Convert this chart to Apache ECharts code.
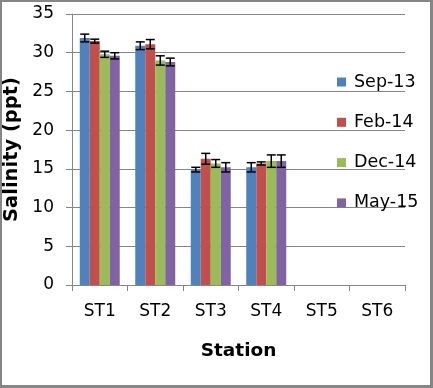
<!DOCTYPE html>
<html>
<head>
<meta charset="utf-8">
<script src="https://cdn.jsdelivr.net/npm/echarts@6/dist/echarts.min.js"></script>
<style>
html,body{margin:0;padding:0;background:#fff;}
#c{position:absolute;left:0;top:0;width:433px;height:388px;}
#b{position:absolute;left:0;top:0;width:433px;height:388px;box-sizing:border-box;border-left:2px solid #868686;border-top:2px solid #868686;border-right:3px solid #868686;border-bottom:3px solid #868686;pointer-events:none;}
</style>
</head>
<body>
<div id="c"></div>
<div id="b"></div>
<script>
const categories = ['ST1','ST2','ST3','ST4','ST5','ST6'];
const seriesNames = ['Sep-13','Feb-14','Dec-14','May-15'];
const sep13 = [31.9, 30.9, 14.9, 15.2, null, null];
const feb14 = [31.5, 31.1, 16.3, 15.7, null, null];
const dec14 = [29.8, 29.0, 15.7, 16.0, null, null];
const may15 = [29.6, 28.8, 15.2, 16.0, null, null];
const errSep13 = [0.5, 0.5, 0.3, 0.6, null, null];
const errFeb14 = [0.25, 0.6, 0.7, 0.2, null, null];
const errDec14 = [0.4, 0.6, 0.5, 0.8, null, null];
const errMay15 = [0.4, 0.5, 0.6, 0.8, null, null];
const yTicks = [0,5,10,15,20,25,30,35];

const values = [sep13, feb14, dec14, may15];
const errors = [errSep13, errFeb14, errDec14, errMay15];
const colors = ['#4F81BD','#C0504D','#9BBB59','#8064A2'];
const FONT = 'DejaVu Sans';
const BAR_W = 10;

const series = [];
values.forEach((vals, i) => {
  series.push({
    name: seriesNames[i], type: 'bar', data: vals, barWidth: BAR_W, barGap: '0%',
    itemStyle: {color: colors[i]}
  });
});
values.forEach((vals, i) => {
  const data = [];
  vals.forEach((v, k) => { if (v != null) data.push([k, v, errors[i][k]]); });
  series.push({
    type: 'custom', data: data, z: 10, silent: true,
    renderItem: function(params, api) {
      const k = api.value(0), v = api.value(1), e = api.value(2);
      const c = api.coord([k, v]);
      const x = c[0] + (-1.5 + i) * BAR_W;
      const top = api.coord([k, v + e])[1];
      const bot = api.coord([k, v - e])[1];
      const hw = 4.5;
      const style = {stroke: '#000', lineWidth: 1.5};
      return {type: 'group', children: [
        {type: 'line', shape: {x1: x, y1: top, x2: x, y2: bot}, style: style},
        {type: 'line', shape: {x1: x - hw, y1: top, x2: x + hw, y2: top}, style: style},
        {type: 'line', shape: {x1: x - hw, y1: bot, x2: x + hw, y2: bot}, style: style}
      ]};
    }
  });
});

const chart = echarts.init(document.getElementById('c'));
chart.setOption({
  animation: false,
  backgroundColor: '#fff',
  grid: {left: 72, right: 28, top: 14, bottom: 103, containLabel: false, outerBoundsMode: 'none'},
  legend: {
    data: seriesNames, orient: 'vertical', left: 332, top: 67,
    itemWidth: 9, itemHeight: 9, itemGap: 20.3, icon: 'rect',
    textStyle: {fontFamily: FONT, fontSize: 17.5, color: '#000', lineHeight: 20, padding: [0,0,0,3]}
  },
  xAxis: {
    type: 'category', data: categories,
    name: 'Station', nameLocation: 'middle', nameGap: 57,
    nameTextStyle: {fontFamily: FONT, fontSize: 18.5, fontWeight: 'bold', color: '#000'},
    axisLine: {lineStyle: {color: '#868686', width: 1}},
    axisTick: {show: true, length: 6, lineStyle: {color: '#868686'}},
    axisLabel: {fontFamily: FONT, fontSize: 17, color: '#000', margin: 18}
  },
  yAxis: {
    type: 'value', min: yTicks[0], max: yTicks[yTicks.length-1], interval: 5,
    name: 'Salinity (ppt)', nameLocation: 'middle', nameGap: 44,
    nameTextStyle: {fontFamily: FONT, fontSize: 19.5, fontWeight: 'bold', color: '#000'},
    axisLine: {show: true, lineStyle: {color: '#868686', width: 1}},
    axisTick: {show: true, length: 6, lineStyle: {color: '#868686'}},
    axisLabel: {fontFamily: FONT, fontSize: 17, color: '#000', margin: 18},
    splitLine: {show: true, lineStyle: {color: '#868686', width: 1}}
  },
  series: series
});
</script>
</body>
</html>
